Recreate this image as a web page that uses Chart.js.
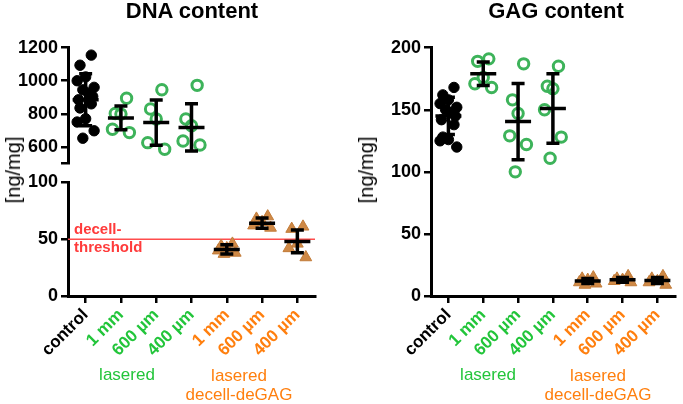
<!DOCTYPE html>
<html>
<head>
<meta charset="utf-8">
<script src="https://cdn.jsdelivr.net/npm/chart.js@4.4.1/dist/chart.umd.min.js"></script>
<style>
  body { margin: 0; width: 683px; height: 404px; position: relative; background: #fff; overflow: hidden;
         font-family: "Liberation Sans", Arial, sans-serif; }
  canvas { position: absolute; top: 0; }
  .t { position: absolute; white-space: nowrap; line-height: 1; }
</style>
</head>
<body>
<canvas id="dnaTop" style="left:0" width="330" height="404"></canvas>
<canvas id="dnaBottom" style="left:0" width="330" height="404"></canvas>
<canvas id="gag" style="left:340px" width="343" height="404"></canvas>

<div class="t" style="left:192px;top:0;transform:translateX(-50%);font-size:22px;font-weight:bold">DNA content</div>
<div class="t" style="left:556px;top:0;transform:translateX(-50%);font-size:22px;font-weight:bold">GAG content</div>
<div class="t" style="left:13px;top:170px;transform:translate(-50%,-50%) rotate(-90deg);font-size:20px">[ng/mg]</div>
<div class="t" style="left:366px;top:170px;transform:translate(-50%,-50%) rotate(-90deg);font-size:20px">[ng/mg]</div>
<div class="t" style="left:74px;top:220px;font-size:15px;font-weight:bold;color:#ff3b3b;line-height:18px">decell-<br>threshold</div>
<div class="t" style="left:127px;top:366px;transform:translateX(-50%);font-size:17px;color:#22c53a">lasered</div>
<div class="t" style="left:239px;top:366px;transform:translateX(-50%);font-size:17px;color:#ff7f0e;text-align:center;line-height:19px">lasered<br>decell-deGAG</div>
<div class="t" style="left:488px;top:366px;transform:translateX(-50%);font-size:17px;color:#22c53a">lasered</div>
<div class="t" style="left:598px;top:366px;transform:translateX(-50%);font-size:17px;color:#ff7f0e;text-align:center;line-height:19px">lasered<br>decell-deGAG</div>

<script>
// categories and tick label colours
const CATEGORIES = ['control', '1 mm', '600 µm', '400 µm', '1 mm', '600 µm', '400 µm'];
const TICK_COLORS = ['#000', '#22c53a', '#22c53a', '#22c53a', '#ff7f0e', '#ff7f0e', '#ff7f0e'];

// DNA content [ng/mg], one array per group
const DNA_CONTROL = [1155, 1094, 1023, 1000, 960, 945, 925, 905, 885, 860, 835, 770, 750, 697, 652];
const DNA_LAS_1MM = [894, 802, 798, 706, 686];
const DNA_LAS_600 = [945, 829, 768, 625, 585];
const DNA_LAS_400 = [972, 768, 727, 635, 611];
const DNA_DEC_1MM = [46, 44, 42, 40, 38, 37];
const DNA_DEC_600 = [70, 68, 65, 62, 60];
const DNA_DEC_400 = [61, 59, 46, 42, 34];
const DNA_MEAN = [885, 775, 747, 717, 41, 64, 48];
const DNA_SD = [158, 72, 137, 143, 4, 4.5, 10];
const DECELL_THRESHOLD = 50;

// GAG content [ng/mg]
const GAG_CONTROL = [168, 162, 158, 155, 152, 150, 148, 145, 142, 138, 128, 126, 125, 120];
const GAG_LAS_1MM = [191, 189, 176, 171, 168];
const GAG_LAS_600 = [187, 158, 147, 129, 122, 100];
const GAG_LAS_400 = [185, 169, 167, 150, 128, 111];
const GAG_DEC_1MM = [15, 14, 13, 11, 10, 9];
const GAG_DEC_600 = [16, 14, 13, 12, 11];
const GAG_DEC_400 = [16, 14, 12, 11, 9];
const GAG_MEAN = [145, 179, 140.5, 151, 12, 13, 12.5];
const GAG_SD = [15, 9.5, 30.7, 28, 2, 2, 2.5];

const FONT = '"Liberation Sans", Arial, sans-serif';
const JITTER = [0.16, -0.16, 0, -0.24, 0.24, -0.08, 0.08, 0.2, -0.2];

// scatter dot style per group
function groupDataset(values, cat) {
  const data = values.map((v, i) => ({ x: cat + JITTER[i % JITTER.length], y: v }));
  if (cat === 0) {
    return { data, pointStyle: 'circle', pointRadius: 5.2, backgroundColor: '#000', borderColor: '#000', borderWidth: 1 };
  }
  if (cat <= 3) {
    return { data, pointStyle: 'circle', pointRadius: 5.2, backgroundColor: 'rgba(0,0,0,0)', borderColor: '#3db35a', borderWidth: 3 };
  }
  return { data, pointStyle: 'triangle', pointRadius: 6.8, backgroundColor: '#cf8946', borderColor: '#c27c3a', borderWidth: 1 };
}

// mean +/- SD bars, drawn through the chart scales
function errorBars(means, sds, cats) {
  return {
    id: 'errorBars',
    afterDatasetsDraw(chart) {
      const { ctx, scales: { x, y } } = chart;
      ctx.save();
      ctx.strokeStyle = '#000';
      ctx.lineWidth = 3.5;
      cats.forEach(c => {
        const cx = x.getPixelForValue(c);
        const m = y.getPixelForValue(means[c]);
        const hi = y.getPixelForValue(means[c] + sds[c]);
        const lo = y.getPixelForValue(means[c] - sds[c]);
        ctx.beginPath();
        ctx.moveTo(cx, hi); ctx.lineTo(cx, lo);
        ctx.moveTo(cx - 6.5, hi); ctx.lineTo(cx + 6.5, hi);
        ctx.moveTo(cx - 6.5, lo); ctx.lineTo(cx + 6.5, lo);
        ctx.moveTo(cx - 13, m); ctx.lineTo(cx + 13, m);
        ctx.stroke();
      });
      ctx.restore();
    }
  };
}

const thresholdLine = {
  id: 'thresholdLine',
  beforeDatasetsDraw(chart) {
    const { ctx, chartArea, scales: { y } } = chart;
    const py = y.getPixelForValue(DECELL_THRESHOLD);
    ctx.save();
    ctx.strokeStyle = '#ff4d4d';
    ctx.lineWidth = 1.5;
    ctx.beginPath();
    ctx.moveTo(chartArea.left, py);
    ctx.lineTo(chartArea.right, py);
    ctx.stroke();
    ctx.restore();
  }
};

function yAxis(min, max, ticks, width) {
  return {
    min: min, max: max,
    afterFit: s => { s.width = width; },
    afterBuildTicks: s => { s.ticks = ticks.map(v => ({ value: v })); },
    border: { color: '#000', width: 3 },
    grid: { drawOnChartArea: false, color: '#000', lineWidth: 2.5, tickLength: 7 },
    ticks: { color: '#000', padding: 3, font: { family: FONT, size: 18, weight: 'bold' },
             callback: v => (v === 500 ? '' : String(v)) }
  };
}

function xAxis(show) {
  return {
    type: 'linear', min: -0.5, max: 6.5, display: show,
    afterBuildTicks: s => { s.ticks = CATEGORIES.map((c, i) => ({ value: i })); },
    afterFit: s => { s.height = show ? 108 : 0; },
    border: { color: '#000', width: 3 },
    grid: { drawOnChartArea: false, color: '#000', lineWidth: 2.5, tickLength: 7 },
    ticks: { autoSkip: false, minRotation: 45, maxRotation: 45, padding: 2,
             color: c => TICK_COLORS[c.index],
             font: { family: FONT, size: 17, weight: 'bold' },
             callback: (v, i) => CATEGORIES[i] }
  };
}

function baseOptions(padding, x, y) {
  return {
    responsive: false,
    animation: false,
    events: [],
    layout: { padding: padding },
    plugins: { legend: { display: false }, tooltip: { enabled: false } },
    scales: { x: x, y: y }
  };
}

// DNA, upper segment (500-1200)
new Chart(document.getElementById('dnaTop'), {
  type: 'scatter',
  data: { datasets: [
    groupDataset(DNA_CONTROL, 0), groupDataset(DNA_LAS_1MM, 1),
    groupDataset(DNA_LAS_600, 2), groupDataset(DNA_LAS_400, 3)
  ] },
  options: baseOptions({ top: 47.7, bottom: 240.7, left: 0, right: 15 }, xAxis(false),
                       yAxis(500, 1200, [500, 600, 800, 1000, 1200], 68)),
  plugins: [errorBars(DNA_MEAN, DNA_SD, [0, 1, 2, 3])]
});

// DNA, lower segment (0-100)
new Chart(document.getElementById('dnaBottom'), {
  type: 'scatter',
  data: { datasets: [
    groupDataset(DNA_DEC_1MM, 4), groupDataset(DNA_DEC_600, 5), groupDataset(DNA_DEC_400, 6)
  ] },
  options: baseOptions({ top: 182.3, bottom: 0, left: 0, right: 15 }, xAxis(true),
                       yAxis(0, 100, [0, 50, 100], 68)),
  plugins: [thresholdLine, errorBars(DNA_MEAN, DNA_SD, [4, 5, 6])]
});

// GAG
new Chart(document.getElementById('gag'), {
  type: 'scatter',
  data: { datasets: [
    groupDataset(GAG_CONTROL, 0), groupDataset(GAG_LAS_1MM, 1), groupDataset(GAG_LAS_600, 2),
    groupDataset(GAG_LAS_400, 3), groupDataset(GAG_DEC_1MM, 4), groupDataset(GAG_DEC_600, 5),
    groupDataset(GAG_DEC_400, 6)
  ] },
  options: baseOptions({ top: 47.7, bottom: 0, left: 0, right: 3 }, xAxis(true),
                       yAxis(0, 200, [0, 50, 100, 150, 200], 91)),
  plugins: [errorBars(GAG_MEAN, GAG_SD, [0, 1, 2, 3, 4, 5, 6])]
});
</script>
</body>
</html>
